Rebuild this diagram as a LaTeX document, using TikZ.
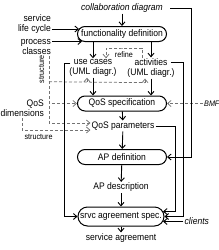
\documentclass[tikz,border=0pt]{standalone}
\usepackage{fontspec}
\setmainfont{Liberation Sans}[FakeStretch=0.9]
\usepackage{tikz}
\usetikzlibrary{arrows.meta, positioning, calc}
\newcommand{\mainsz}{\fontsize{9.5}{10}\selectfont}
\newcommand{\smallsz}{\fontsize{8}{9}\selectfont}
\tikzset{
  procbox/.style={rectangle, rounded corners=7.5pt, draw=black, line width=1pt,
                  minimum width=89pt, minimum height=15pt, inner sep=1pt, font=\mainsz},
  txt/.style={inner sep=1pt, font=\mainsz, align=center},
  smalltxt/.style={inner sep=1pt, font=\smallsz},
  arrow/.style={-{Straight Barb[length=3.5pt,width=6pt]}, line width=0.9pt},
  dashline/.style={draw=black!55, dash pattern=on 3pt off 2pt, line width=0.75pt},
}
\begin{document}
\begin{tikzpicture}[x=1pt, y=-1pt]
    \useasboundingbox (0,0) rectangle (219,250);
    % main column
    \node[procbox] (fd) at (122,34) {functionality definition};
    \node[txt, font=\mainsz\itshape] (collab) at (122,8) {collaboration diagram};
    \node[txt] (uc) at (93,68) {use cases\\(UML diagr.)};
    \node[txt] (act) at (151,68) {activities\\(UML diagr.)};
    \node[procbox] (qs) at (122,103.5) {QoS specification};
    \node[txt] (qp) at (123,126) {QoS parameters};
    \node[procbox] (apd) at (122,157) {AP definition};
    \node[txt] (apdesc) at (121,187.5) {AP description};
    \node[procbox, minimum width=86pt, minimum height=19pt, rounded corners=9.5pt] (svc) at (121,216.5) {srvc agreement spec.};
    \node[txt] (sa) at (121,238) {service agreement};
    % side inputs
    \node[txt, align=right, anchor=east] (slc) at ($(fd.west)+(-25,-10)$) {service\\life cycle};
    \node[txt, align=right, anchor=east] (pc) at ($(fd.west)+(-25,12.5)$) {process\\classes};
    \node[txt, align=right, anchor=east] (qd) at ($(qs.west)+(-32,5)$) {QoS\\dimensions};
    \node[smalltxt, font=\smallsz\itshape, anchor=west] (bmf) at ($(qs.east)+(36,0)$) {BMF};
    \node[txt, font=\mainsz\itshape, anchor=west] (cl) at ($(svc.east)+(19,5)$) {clients};
    \node[smalltxt] (refine) at ($(fd.south)+(2,13)$) {refine};
    \coordinate (strtop) at ($(pc.south east)+(-3,1)$);
    \coordinate (sb) at ($(uc.south)+(0,4)$);
    \node[smalltxt, rotate=90] (str1) at ($(strtop)+(-7.5,13)$) {structure};
    \coordinate (ucx) at ($(fd.west)+(-12.5,0)$);
    \coordinate (qpx) at ($(fd.east)+(8.5,0)$);
    \coordinate (actx) at ($(fd.east)+(16.5,0)$);
    \coordinate (qpend) at ($(svc.east)+(-1.5,-5)$);

    \draw[arrow] (collab) -- (fd);
    \draw[arrow] ($(slc.east)+(0,5)$) -- ($(fd.west)+(2,-5)$);
    \draw[arrow] ($(pc.east)+(0,-5)$) -- ($(fd.west)+(5,7.5)$);
    \draw[arrow] (fd.south -| uc.north) -- (uc.north);
    \draw[arrow] (fd.south -| act.north) -- (act.north);
    \draw[arrow] (uc.south) -- (uc.south |- qs.north);
    \draw[arrow] (act.south) -- (act.south |- qs.north);
    \draw[arrow] (qs) -- (qp);
    \draw[arrow] (qp) -- (apd);
    \draw[arrow] (apd) -- (apdesc);
    \draw[arrow] (apdesc) -- (svc);
    \draw[arrow] (svc) -- (sa);

    % refine and structure relations
    \draw[arrow, dashline] ($(act.north)+(-9,1)$) |- ($(fd.south)+(0,6)$) -| ($(uc.north)+(13,0)$);
    \draw[arrow, dashline] (strtop) |- ($(qp.west)+(0,-3)$);
    \draw[dashline] (strtop |- sb) -- ($(act.south)+(-6,4)$);
    \draw[arrow, dashline] ($(uc.south)+(-6,4)$) -- ($(uc.south)+(-6,0)$);
    \draw[arrow, dashline] ($(act.south)+(-6,4)$) -- ($(act.south)+(-6,0)$);
    \draw[arrow, dashline] (qd.south) |- node[smalltxt, pos=0.62, below=3pt] (str2) {structure} ($(qp.west)+(0,4)$);
    \draw[arrow, dashline] ($(qd.east)+(7,-5)$) -- (qs.west);
    \draw[arrow, dashline] (bmf.west) -- (qs.east);

    % feedback lines
    \draw[arrow] ($(uc.north west)+(2,5)$) -| (ucx |- svc.west) -- (svc.west);
    \draw[arrow] ($(collab.east)+(6,0)$) -| ($(fd.east)+(24.5,0)$) |- (apd.east);
    \draw[arrow] ($(act.north east)+(-5,5)$) -| (actx |- svc.east) -- (svc.east);
    \draw[arrow] (qp.east) -| (qpx |- qpend) -- (qpend);
    \draw[arrow] (cl.west) -- ($(svc.east)+(-1.5,5)$);
\end{tikzpicture}
\end{document}
